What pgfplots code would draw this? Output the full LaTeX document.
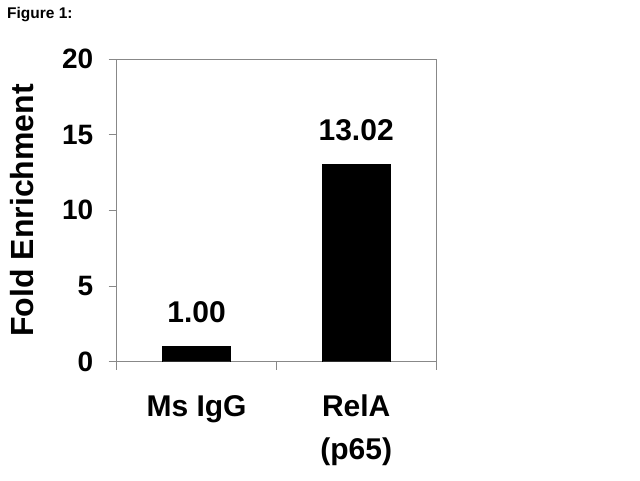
\documentclass[border=0pt]{standalone}
\usepackage{fontspec}
\setmainfont{Liberation Sans}
\usepackage{pgfplots}
\pgfplotsset{compat=1.18}
\definecolor{axgray}{HTML}{888888}
\begin{document}
\begin{tikzpicture}[x=1pt,y=1pt]
\path[use as bounding box] (0,0) rectangle (640,480);
\node[anchor=base west, inner sep=0, font=\bfseries\fontsize{15.5}{18}\selectfont] at (7,461) {Figure 1:};
\begin{axis}[
 at={(116.7pt,118.3pt)}, anchor=south west,
 scale only axis, width=319.3pt, height=302.7pt,
 xmin=-0.5, xmax=1.5, ymin=0, ymax=20,
 axis line style={draw=axgray, line width=1pt},
 tick pos=left, tick align=outside, major tick length=8pt,
 tick style={draw=axgray, line width=1pt},
 ytick={0,5,10,15,20},
 xtick={-0.5,0.5,1.5}, xticklabels={},
 extra x ticks={0,1}, extra x tick labels={Ms IgG,{RelA\\(p65)}},
 extra x tick style={major tick length=0pt, tick style={draw=none}},
 xticklabel style={font=\bfseries\fontsize{30}{43}\selectfont, align=center, yshift=-30pt},
 yticklabel style={font=\bfseries\fontsize{28}{34}\selectfont, xshift=-12pt},
 /pgf/number format/assume math mode=true,
 ylabel={Fold Enrichment},
 ylabel style={font=\bfseries\fontsize{32}{38}\selectfont, at={(axis description cs:-0.295,0.5)}, anchor=center},
 ybar, bar width=68pt,
 point meta=explicit symbolic,
 nodes near coords,
 nodes near coords style={font=\bfseries\fontsize{30}{36}\selectfont, black, yshift=20pt},
]
\addplot[fill=black, draw=black] coordinates {(0,1.00) [1.00] (1,13.02) [13.02]};
\end{axis}
\end{tikzpicture}
\end{document}
